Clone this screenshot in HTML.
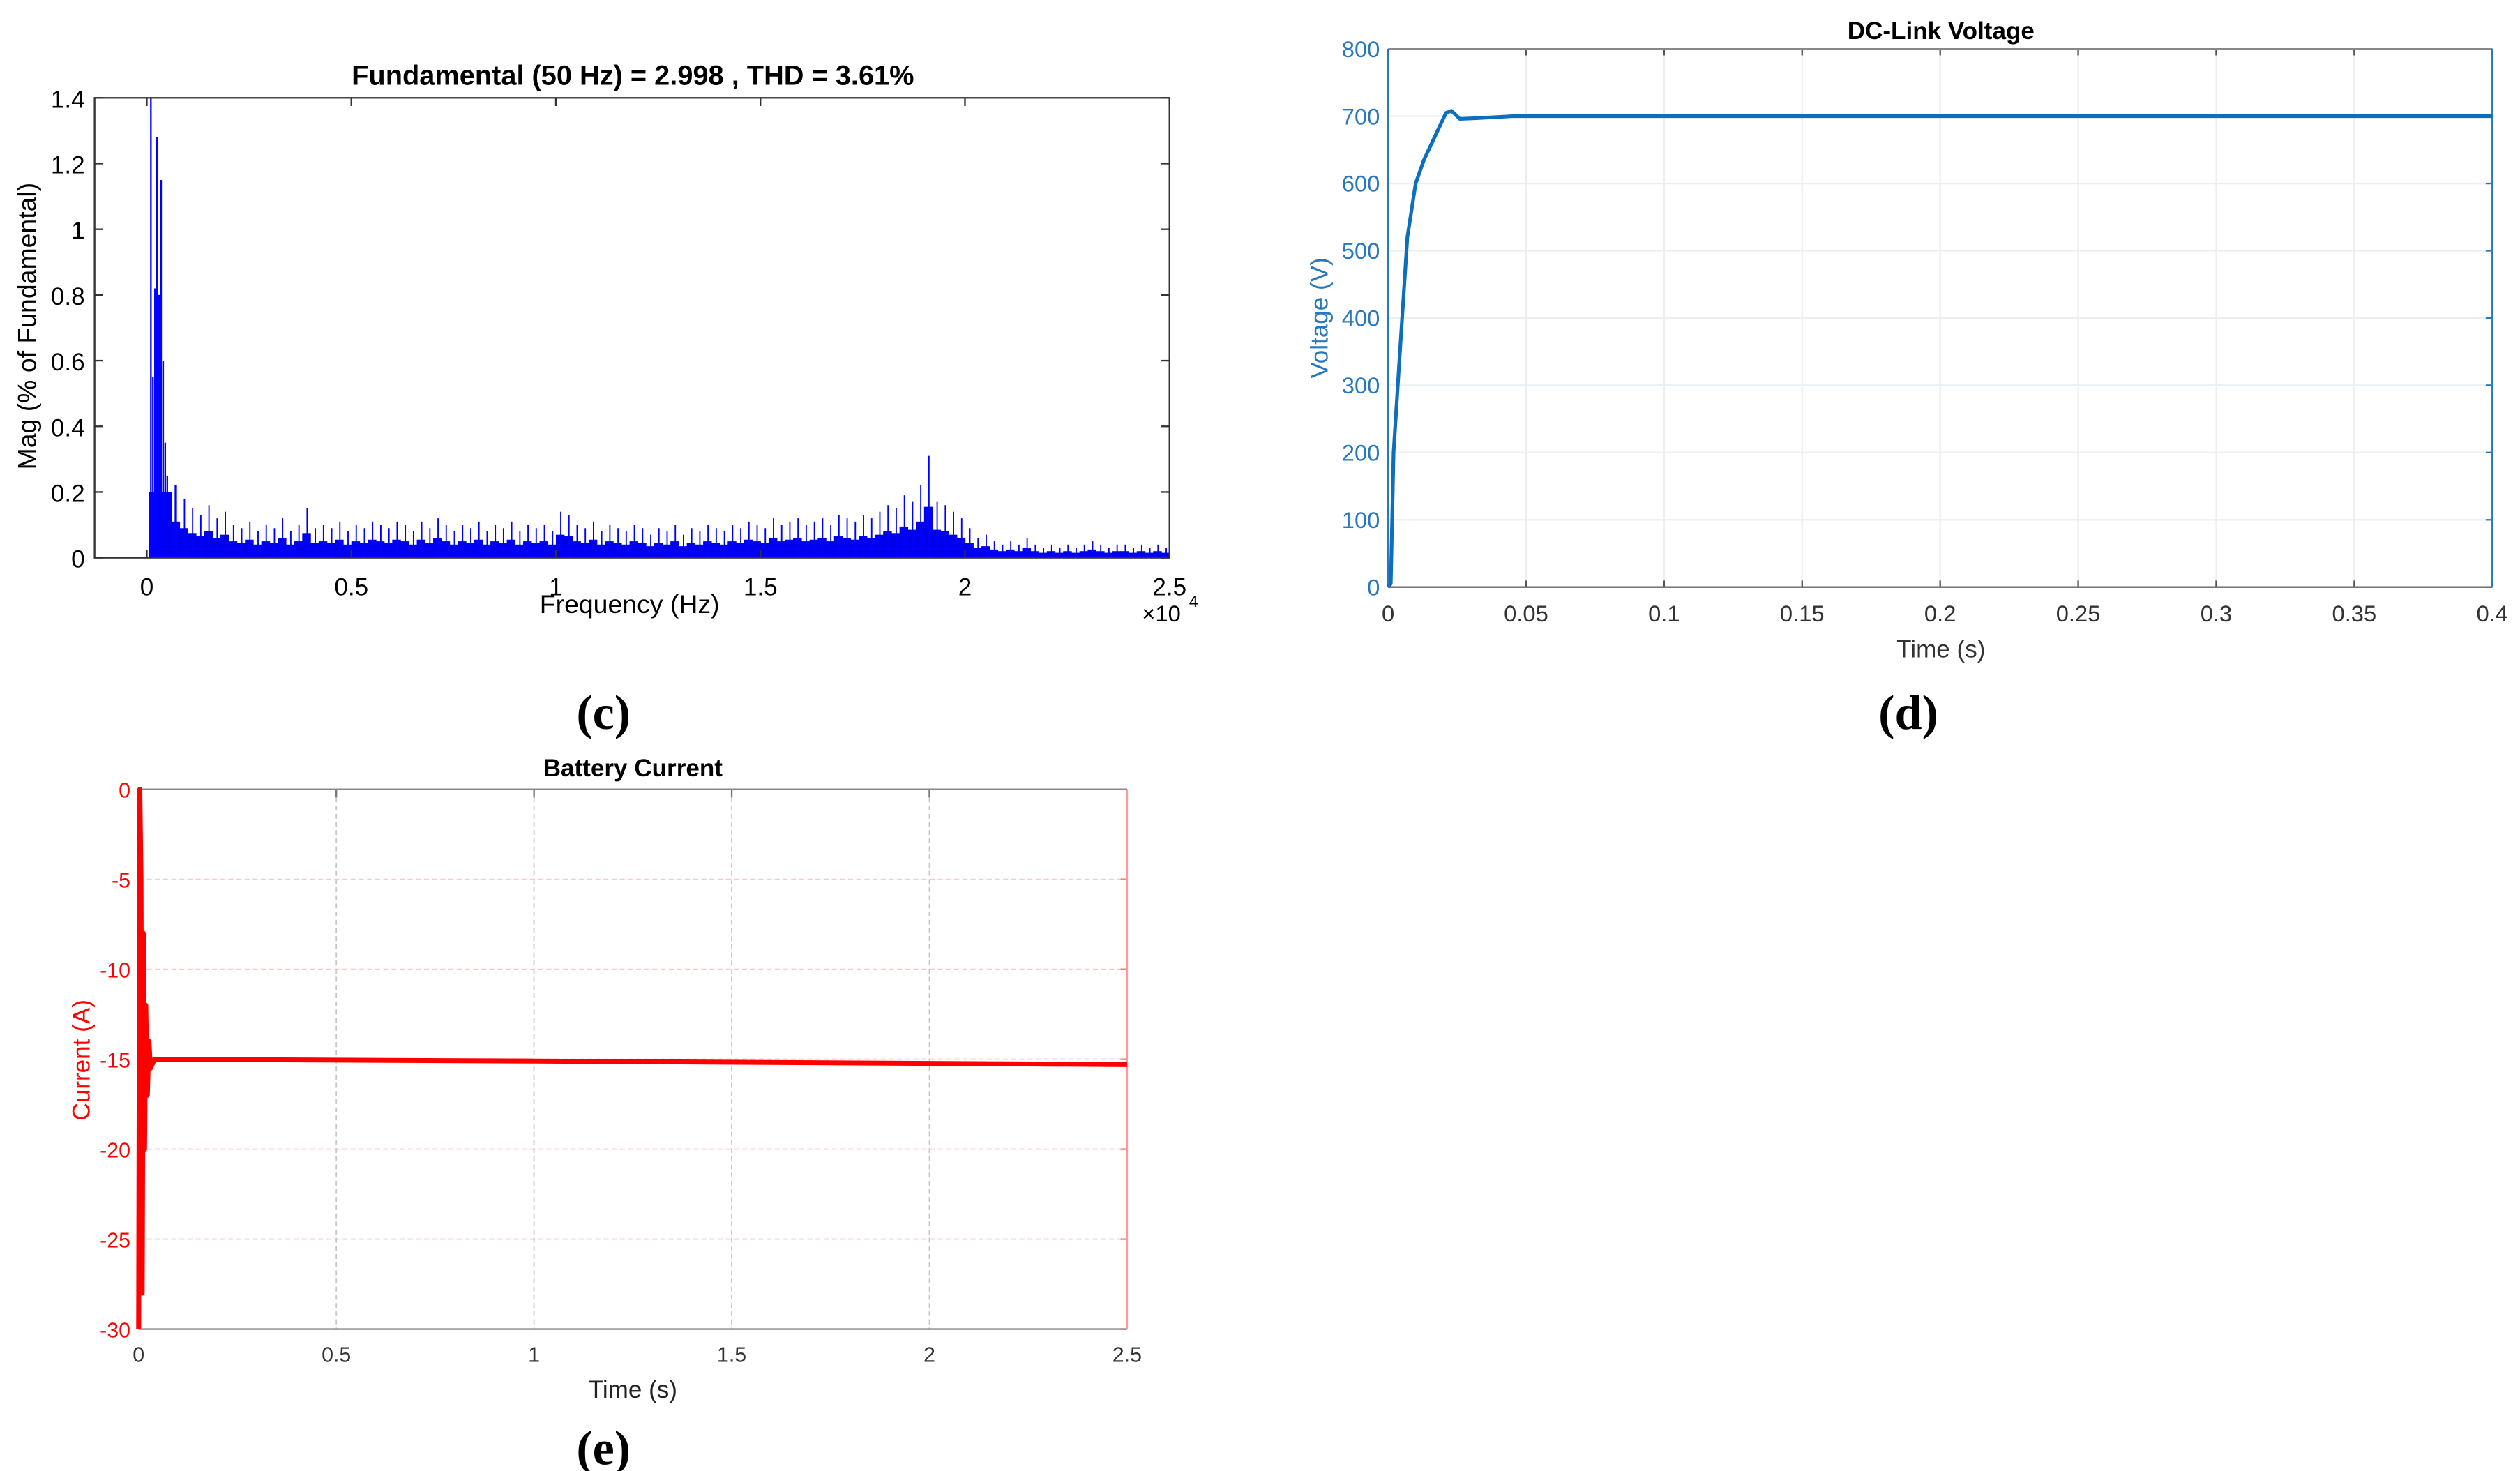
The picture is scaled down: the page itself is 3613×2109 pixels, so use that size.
<!DOCTYPE html>
<html><head><meta charset="utf-8"><style>
html,body{margin:0;padding:0;background:#fff;}
svg{display:block;}
text{font-family:"Liberation Sans",sans-serif;}
</style></head><body>
<svg id="fig" width="3613" height="2109" viewBox="0 0 1545 902" preserveAspectRatio="none" xmlns="http://www.w3.org/2000/svg">
<g id="gc"></g>
<g id="gd"></g>
<g id="ge"></g>
<text x="370" y="447" font-size="30" font-weight="bold" text-anchor="middle" style="font-family:'Liberation Serif',serif">(c)</text>
<text x="1170" y="447" font-size="30" font-weight="bold" text-anchor="middle" style="font-family:'Liberation Serif',serif">(d)</text>
<text x="370" y="898" font-size="30" font-weight="bold" text-anchor="middle" style="font-family:'Liberation Serif',serif">(e)</text>
</svg>
<script>
// ---- chart (c) data ----
const cYTicks = [0,0.2,0.4,0.6,0.8,1,1.2,1.4];
const cXTicks = [0,0.5,1,1.5,2,2.5];
const cHarmFreq = [100,150,200,250,300,350,400,450,500,600,700];
const cHarmMag = [1.4,0.55,0.82,1.28,0.8,1.15,0.6,0.35,0.25,0.2,0.22];
const cNoiseStart = 600;
const cNoiseStep = 200;
const cNoiseMag = [.22,.18,.15,.13,.16,.12,.14,.10,
.09,.11,.08,.10,.09,.12,.08,.10,.15,.09,
.10,.09,.11,.08,.10,.09,.11,.10,.09,.11,
.10,.08,.11,.09,.12,.10,.08,.10,.09,.11,
.08,.10,.09,.11,.08,.10,.09,.10,.08,.14,
.13,.10,.09,.11,.08,.10,.09,.08,.10,.09,
.07,.09,.08,.10,.07,.09,.08,.10,.09,.08,
.10,.09,.11,.10,.09,.12,.10,.11,.12,.10,
.11,.12,.10,.13,.12,.11,.13,.12,.14,.16,
.15,.19,.17,.22,.31,.17,.16,.14,.12,.09,
.06,.07,.05,.04,.05,.04,.06,.04,.03,.04,
.03,.04,.03,.04,.05,.04,.03,.04,.04,.03,
.04,.03,.04,.03];
// ---- chart (d) data ----
const dYTicks = [0,100,200,300,400,500,600,700,800];
const dXTicks = [0,0.05,0.1,0.15,0.2,0.25,0.3,0.35,0.4];
const dTime = [0,0.001,0.002,0.004,0.007,0.01,0.013,0.017,0.021,0.023,0.026,0.032,0.045,0.4];
const dVolt = [0,5,200,330,520,600,635,670,705,708,696,697,700,700];
// ---- chart (e) data ----
const eYTicks = [0,-5,-10,-15,-20,-25,-30];
const eXTicks = [0,0.5,1,1.5,2,2.5];
const eTime = [0,0.003,0.006,0.009,0.012,0.015,0.018,0.022,0.026,0.03,0.04,1.0,2.5];
const eCurr = [-30,0,-5,-28,-8,-20,-12,-17,-14,-15.5,-15,-15.1,-15.3];

const NS="http://www.w3.org/2000/svg";
function mk(p,tag,a,txt){const e=document.createElementNS(NS,tag);for(const k in a)e.setAttribute(k,a[k]);if(txt!==undefined)e.textContent=txt;p.appendChild(e);return e;}
function lin(d0,d1,r0,r1){return v=>r0+(v-d0)/(d1-d0)*(r1-r0);}

// ===== chart c =====
(function(){
const g=document.getElementById('gc');
const L=58,R=717,T=60,B=342;
const x=lin(0,25000,90,717), y=lin(0,1.4,B,T);
let t=mk(g,'text',{x:388,y:52,'font-size':17,'font-weight':'bold','text-anchor':'middle'},'Fundamental (50 Hz) = 2.998 , THD = 3.61%');


// bars
cNoiseMag.forEach((v,i)=>{
  const f=cNoiseStart+i*cNoiseStep;
  const x0=x(f), x1=x(f+cNoiseStep);
  let r=mk(g,'rect',{x:x0,y:y(v*0.5),width:x1-x0+0.3,height:B-y(v*0.5),fill:'#0000ee'});
  
  
  let l=mk(g,'line',{x1:x0+(x1-x0)*0.6,x2:x0+(x1-x0)*0.6,y1:B,y2:y(v),stroke:'#0000ff','stroke-width':0.8});
  
  
});
// low-frequency dense region
let base=mk(g,'rect',{x:x(50),y:y(0.2),width:x(600)-x(50),height:B-y(0.2),fill:'#0000ee'});


cHarmFreq.forEach((f,i)=>{
  let l=mk(g,'line',{x1:x(f),x2:x(f),y1:B,y2:y(cHarmMag[i]),stroke:'#0000ff','stroke-width':1});
  
  
});
let fr=mk(g,'rect',{x:L,y:T,width:R-L,height:B-T,fill:'none',stroke:'#333','stroke-width':1});


cYTicks.forEach(v=>{
  mk(g,'line',{x1:L,x2:L+5,y1:y(v),y2:y(v),stroke:'#333'});
  mk(g,'line',{x1:R,x2:R-5,y1:y(v),y2:y(v),stroke:'#333'});
  let tt=mk(g,'text',{x:52,y:y(v)+6,'font-size':15,'text-anchor':'end'},String(v));
  
  
});
cXTicks.forEach(v=>{
  const px=x(v*10000);
  mk(g,'line',{x1:px,x2:px,y1:T,y2:T+5,stroke:'#333'});
  mk(g,'line',{x1:px,x2:px,y1:B,y2:B-5,stroke:'#333'});
  let tt=mk(g,'text',{x:px,y:365,'font-size':15,'text-anchor':'middle'},String(v));
  
  
});
t=mk(g,'text',{x:386,y:376,'font-size':16,'text-anchor':'middle'},'Frequency (Hz)');


t=mk(g,'text',{x:712,y:381,'font-size':14,'text-anchor':'middle'},'×10');


mk(g,'text',{x:729,y:372,'font-size':10},'4');
t=mk(g,'text',{x:0,y:0,'font-size':16,'text-anchor':'middle',transform:'translate(22,200) rotate(-90)'},'Mag (% of Fundamental)');


})();

// ===== chart d =====
(function(){
const g=document.getElementById('gd');
const L=851,R=1528,T=30,B=360;const col='#2878bd';
const x=lin(0,0.4,L,R), y=lin(0,800,B,T);
dYTicks.forEach(v=>{
  mk(g,'line',{x1:L,x2:R,y1:y(v),y2:y(v),stroke:'#eceff2','stroke-width':1});
  mk(g,'line',{x1:R,x2:R-4,y1:y(v),y2:y(v),stroke:col});
  let tt=mk(g,'text',{x:846,y:y(v)+5,'font-size':14,'text-anchor':'end',fill:col},String(v));
  
  
});
dXTicks.forEach(v=>{
  mk(g,'line',{x1:x(v),x2:x(v),y1:T,y2:B,stroke:'#eceff2','stroke-width':1});
  mk(g,'line',{x1:x(v),x2:x(v),y1:T,y2:T+4,stroke:'#555'});
  mk(g,'line',{x1:x(v),x2:x(v),y1:B,y2:B-4,stroke:'#555'});
  let tt=mk(g,'text',{x:x(v),y:381,'font-size':14,'text-anchor':'middle',fill:'#333'},String(v));
  
  
});
mk(g,'line',{x1:L,x2:R,y1:T,y2:T,stroke:'#888'});
mk(g,'line',{x1:L,x2:R,y1:B,y2:B,stroke:'#666'});
mk(g,'line',{x1:L,x2:L,y1:T,y2:B,stroke:col});
mk(g,'line',{x1:R,x2:R,y1:T,y2:B,stroke:col});
let p=mk(g,'polyline',{points:dTime.map((t,i)=>x(t)+','+y(dVolt[i])).join(' '),fill:'none',stroke:'#0c6fbd','stroke-width':2.2,'stroke-linejoin':'round'});


let t=mk(g,'text',{x:1190,y:24,'font-size':15,'font-weight':'bold','text-anchor':'middle'},'DC-Link Voltage');


t=mk(g,'text',{x:1190,y:403,'font-size':15,'text-anchor':'middle',fill:'#333'},'Time (s)');


t=mk(g,'text',{x:0,y:0,'font-size':15,'text-anchor':'middle',fill:col,transform:'translate(814,195) rotate(-90)'},'Voltage (V)');


})();

// ===== chart e =====
(function(){
const g=document.getElementById('ge');
const L=85,R=691,T=484,B=815;const col='#ff0000';
const x=lin(0,2.5,L,R), y=lin(-30,0,B,T);
eYTicks.forEach(v=>{
  mk(g,'line',{x1:L,x2:R,y1:y(v),y2:y(v),stroke:'#f7c8c8','stroke-width':0.8,'stroke-dasharray':'3,2'});
  mk(g,'line',{x1:R,x2:R-4,y1:y(v),y2:y(v),stroke:'#f77'});
  let tt=mk(g,'text',{x:80,y:y(v)+5,'font-size':13,'text-anchor':'end',fill:col},String(v));
  
  
});
eXTicks.forEach(v=>{
  mk(g,'line',{x1:x(v),x2:x(v),y1:T,y2:B,stroke:'#c8c8c8','stroke-width':0.8,'stroke-dasharray':'3,2'});
  mk(g,'line',{x1:x(v),x2:x(v),y1:T,y2:T+5,stroke:'#777'});
  let tt=mk(g,'text',{x:x(v),y:835,'font-size':13,'text-anchor':'middle',fill:'#333'},String(v));
  
  
});
mk(g,'line',{x1:L,x2:R,y1:T,y2:T,stroke:'#888'});
mk(g,'line',{x1:L,x2:R,y1:B,y2:B,stroke:'#888'});
mk(g,'line',{x1:R,x2:R,y1:T,y2:B,stroke:'#f99'});
mk(g,'line',{x1:L,x2:L,y1:T,y2:B,stroke:col});
let p=mk(g,'polyline',{points:eTime.map((t,i)=>x(t)+','+y(eCurr[i])).join(' '),fill:'none',stroke:'#ff0000','stroke-width':3,'stroke-linejoin':'round'});


let t=mk(g,'text',{x:388,y:476,'font-size':15,'font-weight':'bold','text-anchor':'middle'},'Battery Current');


t=mk(g,'text',{x:388,y:857,'font-size':15,'text-anchor':'middle',fill:'#222'},'Time (s)');


t=mk(g,'text',{x:0,y:0,'font-size':15,'text-anchor':'middle',fill:col,transform:'translate(55,650) rotate(-90)'},'Current (A)');


})();
</script>
</body></html>
